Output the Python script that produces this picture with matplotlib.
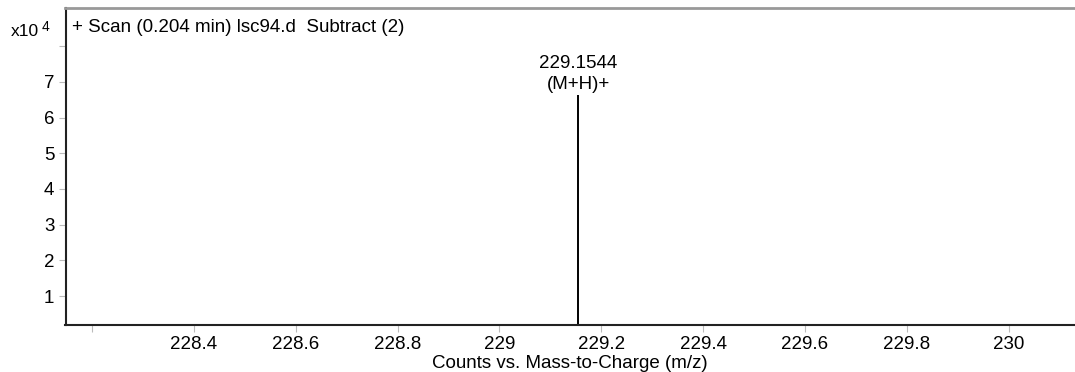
import matplotlib
matplotlib.use("Agg")
import matplotlib.pyplot as plt

plt.rcParams['font.family'] = ['Liberation Sans', 'DejaVu Sans']

# Data
peak_mz = [229.1544]
peak_intensity = [6.62]          # x10^4 counts
peak_labels = ["229.1544\n(M+H)+"]
x_ticks = [228.2, 228.4, 228.6, 228.8, 229.0, 229.2, 229.4, 229.6, 229.8, 230.0]
x_tick_labels = ["", "228.4", "228.6", "228.8", "229", "229.2", "229.4", "229.6", "229.8", "230"]
y_ticks = [1, 2, 3, 4, 5, 6, 7, 8]
y_tick_labels = ["1", "2", "3", "4", "5", "6", "7", ""]
title = "+ Scan (0.204 min) lsc94.d  Subtract (2)"
xlabel = "Counts vs. Mass-to-Charge (m/z)"

FS = 13.5

fig = plt.figure(figsize=(10.75, 3.72), dpi=100)
ax = fig.add_axes([65.5/1075, 47/372, 1 - 65.5/1075, (325-8)/372])

ax.vlines(peak_mz, 0, peak_intensity, color='black', linewidth=1.4)
for mz, h, lab in zip(peak_mz, peak_intensity, peak_labels):
    ax.annotate(lab, (mz, h), xytext=(0, 2), textcoords='offset points',
                ha='center', va='bottom', fontsize=FS, linespacing=1.28)

ax.set_xlim(228.148, 230.13)
ax.set_ylim(0.19, 9.07)
ax.set_xticks(x_ticks)
ax.set_xticklabels(x_tick_labels, fontsize=FS)
ax.set_yticks(y_ticks)
ax.set_yticklabels(y_tick_labels, fontsize=FS)
ax.tick_params(axis='both', direction='out', length=5, width=0.8, color='#bbbbbb', pad=3)
ax.set_xlabel(xlabel, fontsize=FS, labelpad=1.0)

ax.spines['right'].set_visible(False)
ax.spines['top'].set_color('#999999')
ax.spines['top'].set_linewidth(2)
ax.spines['left'].set_color('#222222')
ax.spines['left'].set_linewidth(1.5)
ax.spines['bottom'].set_color('#222222')
ax.spines['bottom'].set_linewidth(1.5)

fig.text(11/1075, 1 - 32/372, "x10", fontsize=12.5, ha='left', va='center')
fig.text(42/1075, 1 - 27/372, "4", fontsize=10, ha='left', va='center')
ax.text(0.0065, 1 - 19/317, title, transform=ax.transAxes,
        fontsize=FS, ha='left', va='center')

fig.savefig("out.png", dpi=100)
